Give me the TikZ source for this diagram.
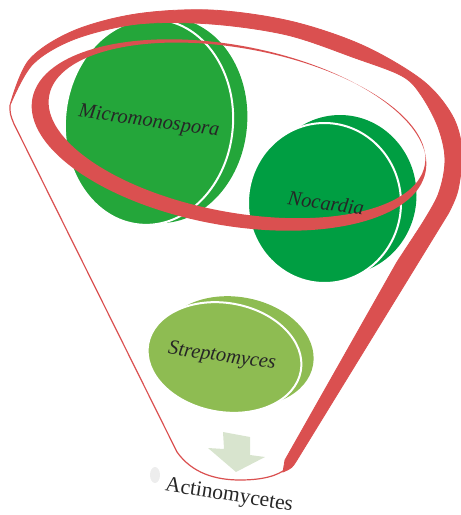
\documentclass[tikz,border=0pt]{standalone}
\usepackage{fontspec}
\setmainfont{Liberation Serif}
\definecolor{funnelred}{RGB}{218,80,80}
\definecolor{microgreen}{RGB}{36,166,58}
\definecolor{nocgreen}{RGB}{0,158,66}
\definecolor{strepgreen}{RGB}{142,188,82}
\definecolor{arrowgreen}{RGB}{216,228,206}
\tikzset{
  front/.style={fill=#1, draw=white, line width=2pt},
  genus/.style={font=\itshape\fontsize{20.5}{24}\selectfont, text=black!85, inner sep=0pt},
}
\begin{document}
\begin{tikzpicture}[x=1pt, y=-1pt]
\useasboundingbox (0,0) rectangle (461,515);
% blobs: a back copy, then the front one with a white rim
\fill[microgreen, rotate around={-5:(149,122)}] (163,119) ellipse (84 and 103);
\fill[front=microgreen, rotate around={-5:(149,122)}] (149,122) ellipse (84 and 103);
\fill[nocgreen] (340,195) ellipse (76.5 and 80);
\fill[front=nocgreen] (324.5,203) ellipse (76.5 and 80);
\fill[strepgreen, rotate around={-10:(224.5,357.5)}] (235.5,349.5) ellipse (77.5 and 54.5);
\fill[front=strepgreen, rotate around={-10:(224.5,357.5)}] (224.5,357.5) ellipse (77.5 and 54.5);
% down arrow and the smudge
\fill[arrowgreen] (223,432) -- (250,437) -- (250,455) -- (265,457) -- (236,472) -- (208,448) -- (224,449) -- cycle;
\fill[black!7] (155,475) ellipse (5 and 8);
% funnel
\draw[funnelred, line width=1.2pt] (10,105) .. controls (10,114) .. (14,124) -- (177,452)
  .. controls (192,473) and (215,480) .. (240,480) .. controls (262,480) and (278,476) .. (287,468);
\fill[funnelred, draw=funnelred, line width=0.8pt]
  plot[smooth, tension=0.55] coordinates {(10,105) (29,60) (73,31) (136,14) (211,10) (290,21) (362,45) (422,80) (452,115) (462,150) (458,190) (448,214)}
  -- (297,460) .. controls (292,468) .. (283,472) -- (285,460) -- (397,262)
  -- plot[smooth, tension=0.55] coordinates {(418,230) (438,195) (445,160) (438,127) (421,95) (402,76) (355,58) (287,35) (211,24) (138,24) (75,39) (33,64) (11,103)}
  -- cycle;
% ring
\begin{scope}[rotate around={-10.5:(229,135)}]
\fill[funnelred, even odd rule] (229,135) ellipse (200 and 90) (236,129) ellipse (191 and 82);
\end{scope}
% labels
\node[genus, rotate=-8] (micro) at (149,122) {Micromonospora};
\node[genus, rotate=-8] (noc) at (326,203) {Nocardia};
\node[genus, rotate=-8] (strep) at (222,357) {Streptomyces};
\node[font=\fontsize{21.5}{25}\selectfont, text=black!85, inner sep=0pt, rotate=-9] (actino) at (229,496) {Actinomycetes};
\end{tikzpicture}
\end{document}
